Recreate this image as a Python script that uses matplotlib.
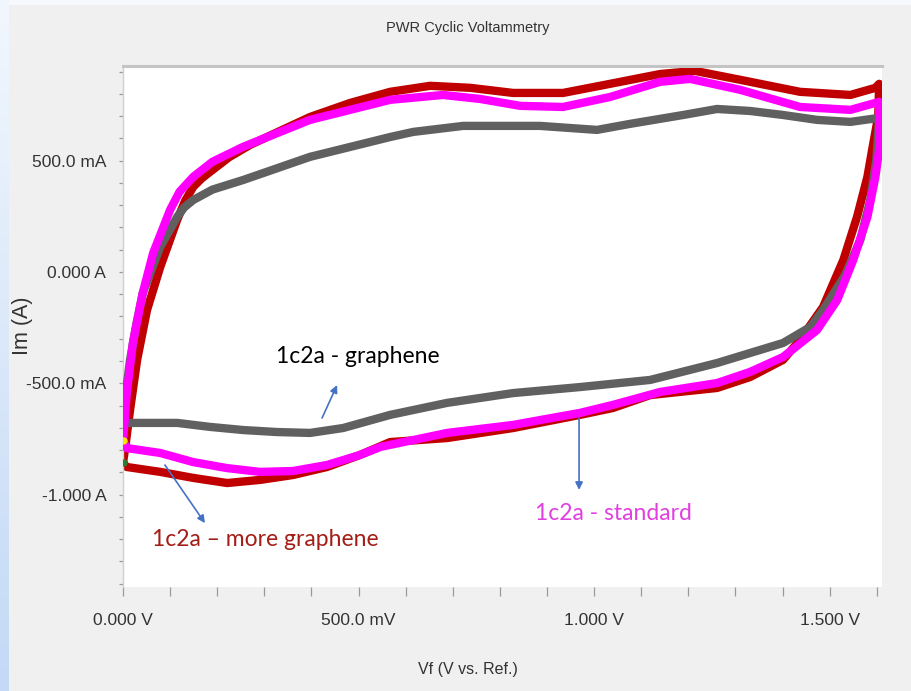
import numpy as np
import matplotlib
matplotlib.use("Agg")
import matplotlib.pyplot as plt
from matplotlib.colors import LinearSegmentedColormap
from matplotlib.ticker import MultipleLocator, FixedLocator, FixedFormatter

# ---------------- data (V in volts, I in amperes) ----------------
red_v = [0.000, 0.004, 0.015, 0.030, 0.051, 0.079, 0.115, 0.132, 0.149, 0.167, 0.185, 0.225, 0.270, 0.397, 0.482,
         0.567, 0.652, 0.737, 0.828, 0.934, 1.034, 1.140, 1.214, 1.310, 1.437, 1.544, 1.597, 1.605,
         1.603, 1.590, 1.580, 1.558, 1.529, 1.486, 1.437, 1.401, 1.331, 1.261, 1.119, 1.040,
         0.970, 0.828, 0.688, 0.567, 0.503, 0.433, 0.361, 0.291, 0.221, 0.149, 0.079, 0.008, 0.000]
red_i = [-0.858, -0.800, -0.620, -0.395, -0.171, 0.022, 0.234, 0.320, 0.382, 0.420, 0.450, 0.515, 0.571, 0.696, 0.759,
         0.809, 0.836, 0.827, 0.804, 0.804, 0.845, 0.889, 0.903, 0.863, 0.809, 0.795, 0.827, 0.845,
         0.700, 0.548, 0.427, 0.247, 0.054, -0.157, -0.305, -0.395, -0.472, -0.521, -0.553, -0.611,
         -0.642, -0.701, -0.746, -0.764, -0.822, -0.876, -0.912, -0.934, -0.948, -0.925, -0.898, -0.876, -0.858]

gray_v = [0.000, 0.004, 0.015, 0.028, 0.042, 0.079, 0.115, 0.130, 0.149, 0.190, 0.255, 0.397, 0.567, 0.616,
          0.722, 0.885, 1.006, 1.076, 1.189, 1.261, 1.331, 1.401, 1.473, 1.544, 1.605,
          1.599, 1.586, 1.565, 1.533, 1.486, 1.459, 1.401, 1.261, 1.119, 0.970, 0.828, 0.688,
          0.567, 0.467, 0.397, 0.327, 0.255, 0.185, 0.115, 0.015, 0.000]
gray_i = [-0.678, -0.575, -0.395, -0.238, -0.094, 0.112, 0.247, 0.290, 0.323, 0.370, 0.413, 0.517, 0.606, 0.629,
          0.656, 0.656, 0.638, 0.665, 0.705, 0.732, 0.723, 0.705, 0.683, 0.674, 0.692,
          0.503, 0.323, 0.144, -0.013, -0.171, -0.247, -0.319, -0.409, -0.485, -0.517, -0.544, -0.588,
          -0.642, -0.701, -0.723, -0.719, -0.710, -0.696, -0.678, -0.678, -0.678]

mag_v = [0.000, 0.008, 0.021, 0.042, 0.064, 0.100, 0.120, 0.149, 0.190, 0.255, 0.397, 0.567, 0.679, 0.758,
         0.843, 0.934, 1.034, 1.140, 1.204, 1.310, 1.437, 1.544, 1.605,
         1.605, 1.597, 1.580, 1.550, 1.516, 1.473, 1.401, 1.331, 1.261, 1.140, 1.040, 0.970,
         0.828, 0.688, 0.546, 0.503, 0.433, 0.361, 0.291, 0.221, 0.149, 0.079, 0.008, 0.000]
mag_i = [-0.759, -0.544, -0.319, -0.094, 0.085, 0.279, 0.360, 0.427, 0.495, 0.562, 0.683, 0.773, 0.795, 0.777,
         0.746, 0.741, 0.786, 0.854, 0.867, 0.818, 0.741, 0.728, 0.764,
         0.548, 0.427, 0.247, 0.054, -0.126, -0.261, -0.382, -0.449, -0.499, -0.539, -0.597, -0.633,
         -0.687, -0.723, -0.786, -0.822, -0.867, -0.894, -0.898, -0.881, -0.854, -0.813, -0.791, -0.759]

start_v = [0.002, 0.002]
start_i = [-0.759, -0.858]

x_ticks = [0.0, 0.5, 1.0, 1.5]
x_labels = ["0.000 V", "500.0 mV", "1.000 V", "1.500 V"]
y_ticks = [-1.0, -0.5, 0.0, 0.5]
y_labels = ["-1.000 A", "-500.0 mA", "0.000 A", "500.0 mA"]

# ---------------- figure ----------------
W, H = 912, 691
fig = plt.figure(figsize=(W / 100, H / 100), dpi=100, facecolor="#f0f0f0")

# left bluish strip and top light strip
strip = fig.add_axes([0, 0, 9 / W, 1])
cmap = LinearSegmentedColormap.from_list("b", ["#f2f7fd", "#c3d9f6"])
strip.imshow(np.linspace(0, 1, 256).reshape(-1, 1), aspect="auto", cmap=cmap)
strip.axis("off")
top = fig.add_axes([9 / W, 1 - 5 / H, 1, 5 / H])
top.set_facecolor("#f6f9fd")
top.set_xticks([]); top.set_yticks([])
for s in top.spines.values():
    s.set_visible(False)

L, R, T, B = 123, 882, 66, 587
ax = fig.add_axes([L / W, 1 - B / H, (R - L) / W, (B - T) / H])
ax.set_facecolor("white")

lw = 6.0
ax.plot(red_v, red_i, color="#c00000", lw=lw, solid_joinstyle="round", zorder=2)
ax.plot(gray_v, gray_i, color="#606060", lw=lw, solid_joinstyle="round", zorder=3)
ax.plot(mag_v, mag_i, color="#ff00ff", lw=lw, solid_joinstyle="round", zorder=4)
ax.scatter(start_v, start_i, c=["#f5e600", "#2e7d32"], s=28, zorder=5, linewidths=0)

ax.set_xlim(0, 1.611)
ax.set_ylim(-1.415, 0.925)

for side in ("bottom", "right"):
    ax.spines[side].set_visible(False)
ax.spines["top"].set_color("#c4c4c4")
ax.spines["top"].set_linewidth(2.2)
ax.spines["left"].set_color("#d0d0d0")
ax.spines["left"].set_linewidth(1.0)

tick_family = ["Liberation Sans Narrow", "Liberation Sans", "DejaVu Sans"]
ax.xaxis.set_major_locator(FixedLocator(x_ticks))
ax.xaxis.set_major_formatter(FixedFormatter(x_labels))
ax.xaxis.set_minor_locator(MultipleLocator(0.1))
ax.yaxis.set_major_locator(FixedLocator(y_ticks))
ax.yaxis.set_major_formatter(FixedFormatter(y_labels))
ax.yaxis.set_minor_locator(MultipleLocator(0.1))
ax.tick_params(axis="x", which="both", direction="out", length=6.5, width=0.9,
               color="#9a9a9a", pad=12, labelcolor="#333333")
ax.tick_params(axis="y", which="both", direction="out", length=3, width=0.9,
               color="#9a9a9a", pad=9, labelcolor="#333333")
for lab in ax.get_xticklabels() + ax.get_yticklabels():
    lab.set_fontfamily(tick_family)
    lab.set_fontsize(12.5)

ax.text(0.4545, 1.073, "PWR Cyclic Voltammetry", transform=ax.transAxes, ha="center",
        va="center", color="#333333", family=tick_family, size=10.5)
ax.set_xlabel("Vf (V vs. Ref.)", color="#333333", family=tick_family, size=11.5)
ax.xaxis.set_label_coords(0.4545, -0.159)
ax.xaxis.label.set_va("center")
ax.set_ylabel("Im (A)", color="#333333", family=tick_family, size=15.5)
ax.yaxis.set_label_coords(-0.133, 0.501)
ax.yaxis.label.set_va("center")

# annotations
afont = ["Lato", "DejaVu Sans"]
ax.text(0.498, -0.41, "1c2a - graphene", color="black", ha="center", va="baseline",
        family=afont, size=16.5)
ax.text(0.3025, -1.231, "1c2a \u2013 more graphene", color="#a31e17", ha="center", va="baseline",
        family=afont, size=16.5)
ax.text(1.041, -1.114, "1c2a - standard", color="#e040e0", ha="center", va="baseline",
        family=afont, size=16.5)

arrow = dict(arrowstyle="-|>", color="#4472c4", lw=1.2, mutation_scale=11, shrinkA=0, shrinkB=0)
ax.annotate("", xy=(0.4544, -0.508), xytext=(0.4225, -0.656), arrowprops=arrow, zorder=6)
ax.annotate("", xy=(0.174, -1.128), xytext=(0.089, -0.867), arrowprops=arrow, zorder=6)
ax.annotate("", xy=(0.968, -0.979), xytext=(0.968, -0.656), arrowprops=arrow, zorder=6)

fig.savefig("out.png", dpi=100, facecolor=fig.get_facecolor())
